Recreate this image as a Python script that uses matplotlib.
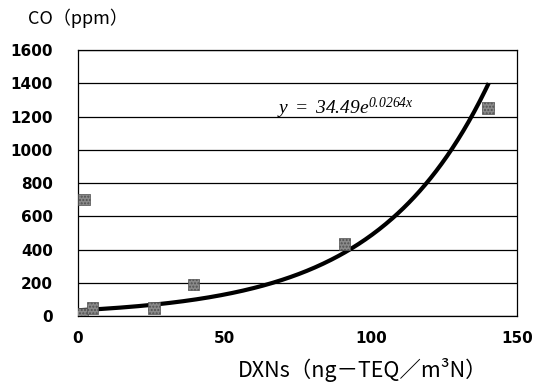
import numpy as np
import matplotlib
matplotlib.use("Agg")
import matplotlib.pyplot as plt

plt.rcParams['font.family'] = ['Noto Sans CJK JP', 'DejaVu Sans']
plt.rcParams['mathtext.fontset'] = 'custom'
plt.rcParams['mathtext.rm'] = 'Liberation Serif:italic'
plt.rcParams['mathtext.it'] = 'Liberation Serif:italic'

# data
dxn = [1.5, 2.0, 5.0, 26.0, 39.5, 91.0, 140.0]
co = [15, 700, 48, 48, 190, 433, 1250]
fit_a = 34.49
fit_b = 0.0264
fit_range = [1.0, 140.0]
xticks = [0, 50, 100, 150]
yticks = [0, 200, 400, 600, 800, 1000, 1200, 1400, 1600]

fig = plt.figure(figsize=(5.42, 3.91), dpi=100)
ax = fig.add_axes([0.1439, 0.1918, 0.954 - 0.1439, 0.872 - 0.1918])

ax.set_xlim(0, 150)
ax.set_ylim(0, 1600)
ax.set_yticks(yticks)
ax.set_xticks(xticks)
ax.yaxis.grid(True, color='black', linewidth=0.9)
ax.set_axisbelow(True)
for s in ax.spines.values():
    s.set_color('black')
    s.set_linewidth(0.9)
ax.tick_params(axis='y', length=0, pad=18, labelsize=11)
ax.tick_params(axis='x', length=0, pad=11, labelsize=11)
for lab in ax.get_xticklabels() + ax.get_yticklabels():
    lab.set_fontweight('bold')
    lab.set_family(['DejaVu Sans'])

xf = np.linspace(fit_range[0], fit_range[1], 300)
ax.plot(xf, fit_a * np.exp(fit_b * xf), color='black', linewidth=3, zorder=3)

ax.scatter(dxn, co, marker='s', s=70, facecolor='#8a8a8a', edgecolor='#505050',
           hatch='.....', linewidth=0.5, zorder=4)

ax.text(68, 1215, r'$\mathrm{y\ =\ 34.49e^{0.0264x}}$', fontsize=14, zorder=5)

fig.text(0.052, 0.954, 'CO（ppm）', fontsize=13, ha='left', va='center')
fig.text(0.67, 0.054, 'DXNs（ng－TEQ／m³N）', fontsize=15.5, ha='center', va='center')

fig.savefig('out.png', dpi=100)
